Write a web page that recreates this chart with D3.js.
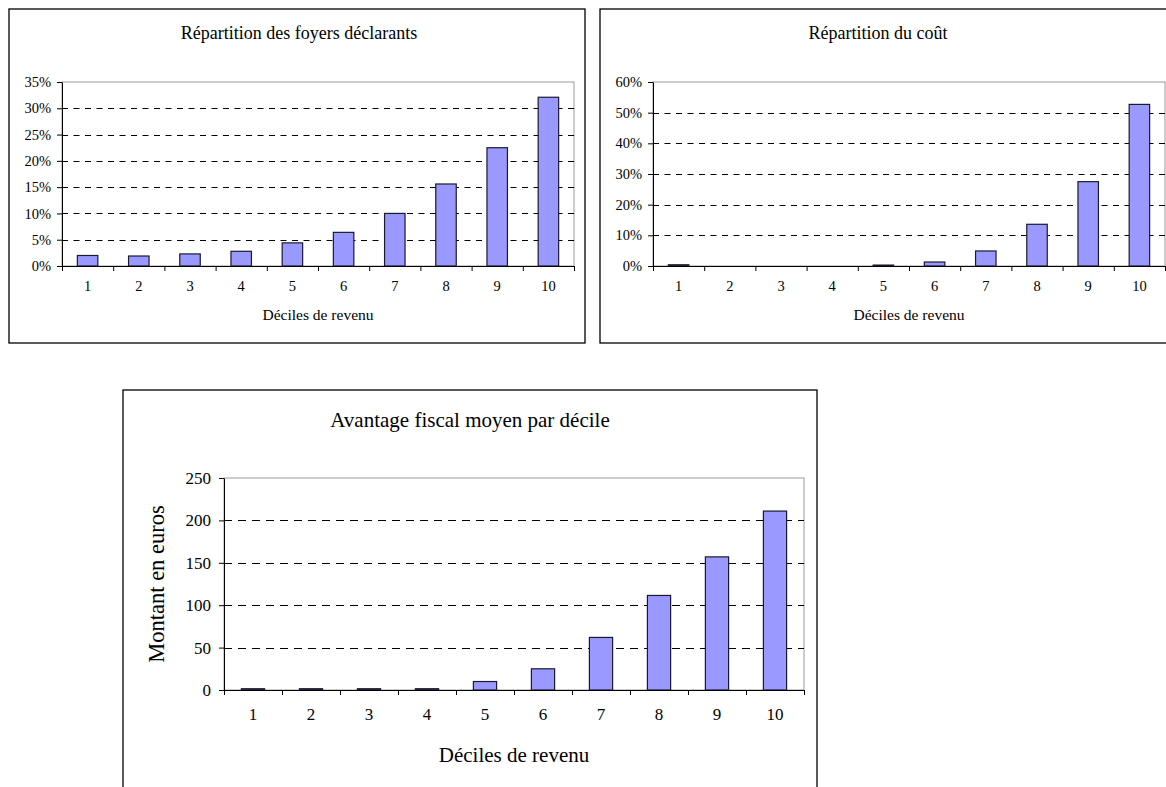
<!DOCTYPE html>
<html>
<head>
<meta charset="utf-8">
<script src="https://cdn.jsdelivr.net/npm/d3@7"></script>
<style>
  html, body { margin: 0; padding: 0; background: #fff; }
  svg { display: block; }
  text { font-family: "Liberation Serif", "Times New Roman", serif; fill: #000; }
</style>
</head>
<body>
<svg id="chart" width="1166" height="787"></svg>
<script>
// Income deciles (x categories shared by all three panels)
const deciles = ["1", "2", "3", "4", "5", "6", "7", "8", "9", "10"];

// Share of tax households per decile (%)
const foyersShare = [2.0, 1.9, 2.3, 2.8, 4.4, 6.4, 10.0, 15.6, 22.5, 32.1];
const foyersTicks = [0, 5, 10, 15, 20, 25, 30, 35];

// Share of the total cost per decile (%)
const coutShare = [0.4, 0, 0, 0, 0.3, 1.3, 4.9, 13.6, 27.5, 52.7];
const coutTicks = [0, 10, 20, 30, 40, 50, 60];

// Average tax advantage per decile (euros)
const avantageMoyen = [1.5, 1.5, 1.5, 1.5, 10, 25, 62, 111.5, 157, 211];
const avantageTicks = [0, 50, 100, 150, 200, 250];

const SERIF = '"Liberation Serif", "Times New Roman", serif';
const svg = d3.select("#chart");

function drawPanel(cfg) {
  const g = svg.append("g");

  // outer frame
  g.append("rect")
    .attr("x", cfg.frame.x).attr("y", cfg.frame.y)
    .attr("width", cfg.frame.w).attr("height", cfg.frame.h)
    .attr("fill", "#fff").attr("stroke", "#000").attr("stroke-width", 1.3);

  // title
  g.append("text")
    .attr("x", cfg.title.x).attr("y", cfg.title.y)
    .attr("text-anchor", "middle")
    .style("font-size", cfg.title.size + "px")
    .text(cfg.title.text);

  const p = cfg.plot;
  const ticks = cfg.ticks;
  const y = d3.scaleLinear()
    .domain([0, ticks[ticks.length - 1]])
    .range([p.y + p.h, p.y]);
  const x = d3.scaleBand()
    .domain(deciles)
    .range([p.x, p.x + p.w])
    .paddingInner(0.6)
    .paddingOuter(0.3);
  const xEdge = d3.scaleLinear().domain([0, deciles.length]).range([p.x, p.x + p.w]);

  // plot-area border (grey top / right)
  g.append("rect")
    .attr("x", p.x).attr("y", p.y).attr("width", p.w).attr("height", p.h)
    .attr("fill", "none").attr("stroke", "#9a9a9a").attr("stroke-width", 1);

  // dashed gridlines
  g.append("g")
    .selectAll("line")
    .data(ticks.slice(1, -1))
    .join("line")
    .attr("x1", p.x).attr("x2", p.x + p.w)
    .attr("y1", d => Math.round(y(d)) + 0.5).attr("y2", d => Math.round(y(d)) + 0.5)
    .attr("stroke", "#000").attr("stroke-width", 1)
    .attr("stroke-dasharray", cfg.dash);

  // bars
  g.append("g")
    .selectAll("rect")
    .data(cfg.values.map((v, i) => ({ k: deciles[i], v })).filter(d => d.v > 0))
    .join("rect")
    .attr("x", d => x(d.k))
    .attr("width", x.bandwidth())
    .attr("y", d => y(d.v))
    .attr("height", d => y(0) - y(d.v))
    .attr("fill", "#9999ff")
    .attr("stroke", "#1a1a2e").attr("stroke-width", 1.2);

  // y axis
  const yAxis = g.append("g")
    .attr("transform", `translate(${p.x},0)`)
    .call(d3.axisLeft(y).tickValues(ticks).tickSize(5).tickSizeOuter(0)
      .tickPadding(cfg.yPad).tickFormat(cfg.fmt));
  yAxis.attr("font-family", SERIF).attr("font-size", cfg.tickSize);
  yAxis.selectAll("text").style("font-family", SERIF).style("font-size", cfg.tickSize + "px");

  // x axis: boundary ticks
  g.append("g")
    .attr("transform", `translate(0,${p.y + p.h})`)
    .call(d3.axisBottom(xEdge).tickValues(d3.range(deciles.length + 1))
      .tickSize(5).tickSizeOuter(0).tickFormat(""));

  // x axis: category labels
  const xLab = g.append("g")
    .attr("transform", `translate(0,${p.y + p.h})`)
    .call(d3.axisBottom(x).tickSize(0).tickPadding(cfg.xPad));
  xLab.select(".domain").remove();
  xLab.attr("font-family", SERIF).attr("font-size", cfg.tickSize);
  xLab.selectAll("text").style("font-family", SERIF).style("font-size", cfg.tickSize + "px");

  svg.selectAll(".domain, .tick line").attr("stroke", "#000");

  // x axis title
  g.append("text")
    .attr("x", p.x + p.w / 2).attr("y", cfg.xTitle.y)
    .attr("text-anchor", "middle")
    .style("font-size", cfg.xTitle.size + "px")
    .text("Déciles de revenu");

  if (cfg.yTitle) {
    g.append("text")
      .attr("transform", `translate(${cfg.yTitle.x},${p.y + p.h / 2}) rotate(-90)`)
      .attr("text-anchor", "middle")
      .style("font-size", cfg.yTitle.size + "px")
      .text(cfg.yTitle.text);
  }
}

const pct = d => d + "%";

drawPanel({
  frame: { x: 9, y: 9, w: 576, h: 334 },
  title: { x: 299, y: 39, size: 18, text: "Répartition des foyers déclarants" },
  plot: { x: 62, y: 82, w: 512, h: 184 },
  values: foyersShare, ticks: foyersTicks, fmt: pct,
  tickSize: 14.5, yPad: 6, xPad: 15, dash: "6,5.5",
  xTitle: { y: 320, size: 15.5 }
});

drawPanel({
  frame: { x: 600, y: 9, w: 576, h: 334 },
  title: { x: 878, y: 39, size: 18, text: "Répartition du coût" },
  plot: { x: 653, y: 82, w: 512, h: 184 },
  values: coutShare, ticks: coutTicks, fmt: pct,
  tickSize: 14.5, yPad: 6, xPad: 15, dash: "6,5.5",
  xTitle: { y: 320, size: 15.5 }
});

drawPanel({
  frame: { x: 123, y: 390, w: 694, h: 420 },
  title: { x: 470, y: 427, size: 21, text: "Avantage fiscal moyen par décile" },
  plot: { x: 224, y: 478, w: 580, h: 212 },
  values: avantageMoyen, ticks: avantageTicks, fmt: d => d,
  tickSize: 17, yPad: 8, xPad: 18, dash: "8,6",
  xTitle: { y: 762, size: 21 },
  yTitle: { x: 164, size: 22.5, text: "Montant en euros" }
});
</script>
</body>
</html>
